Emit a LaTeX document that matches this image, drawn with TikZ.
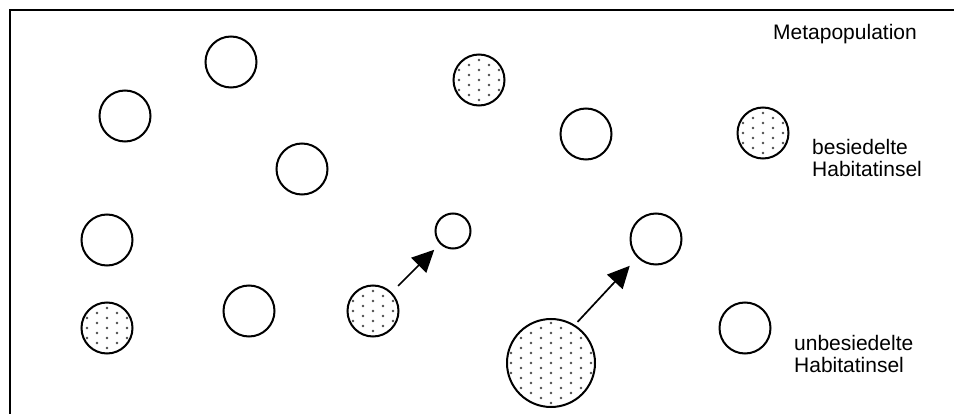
\documentclass[tikz,border=0pt]{standalone}
\usepackage{fontspec}
\setmainfont{Liberation Sans}
\usetikzlibrary{arrows.meta,calc}
\tikzset{
  island/.style={circle, draw=black, line width=2pt, inner sep=0pt, minimum size=51pt},
  dotted island/.style={island, path picture={
      \foreach \i [evaluate=\i as \o using {mod(abs(\i),2)*5}] in {-6,...,6}
        \foreach \j in {-6,...,6}
          \fill[black!70] ($(path picture bounding box.center)+(\i*10,\j*10+\o)$) circle (1.4);
    }},
  lbl/.style={anchor=base west, inner sep=0pt, font=\fontsize{21}{24}\selectfont},
  flow/.style={line width=1.7pt, -{Triangle[length=22pt,width=21pt]}},
}
\begin{document}
\begin{tikzpicture}[x=1pt,y=-1pt]
\useasboundingbox (0,0) rectangle (954,414);
\clip (0,0) rectangle (954,414);
\coordinate (fbl) at (10,420);
\coordinate (ftl) at (10,10);
\coordinate (ftr) at (960,10);
\draw[line width=2.2pt] (fbl) -- (ftl) -- (ftr);

\node[island] (c1) at (231,62) {};
\node[island] (c2) at (125,116) {};
\node[island] (c3) at (302,169) {};
\node[island] (c4) at (107,240) {};
\node[island] (c5) at (249,311) {};
\node[island] (c6) at (586,134) {};
\node[island] (c7) at (656,239) {};
\node[island, minimum size=35pt] (small) at (453,231) {};
\node[island] (legu) at (745,328) {};

\node[dotted island] (d1) at (107,328) {};
\node[dotted island] (d2) at (373,311) {};
\node[dotted island] (d3) at (479,80) {};
\node[dotted island, minimum size=88pt] (big) at (551,363) {};
\node[dotted island] (legb) at (763,133) {};

\draw[flow, shorten <=9pt, shorten >=8pt] (d2.45) -- (small.225);
\draw[flow, shorten <=4pt, shorten >=11pt] (big.58) -- (c7.225);

\node[lbl] (title) at (773,40) {Metapopulation};
\node[lbl] (lb1) at (812,155) {besiedelte};
\node[lbl] (lb2) at (812,177) {Habitatinsel};
\node[lbl] (lu1) at (794,350) {unbesiedelte};
\node[lbl] (lu2) at (794,373) {Habitatinsel};
\end{tikzpicture}
\end{document}
